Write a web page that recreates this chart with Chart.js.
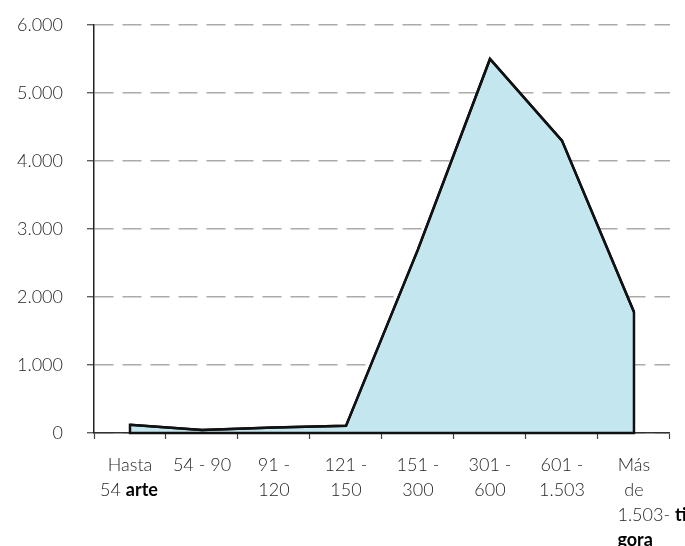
<!DOCTYPE html>
<html>
<head>
<meta charset="utf-8">
<script src="https://cdn.jsdelivr.net/npm/chart.js@4.4.1/dist/chart.umd.min.js"></script>
<style>
html,body{margin:0;padding:0;background:#fff;}
#wrap{width:685px;height:546px;position:relative;}
</style>
</head>
<body>
<div id="wrap"><canvas id="c"></canvas></div>
<script>
// ---- data ----
const categories = ["Hasta 54", "54 - 90", "91 - 120", "121 - 150", "151 - 300", "301 - 600", "601 - 1.503", "Más de 1.503"];
const values = [120, 45, 80, 105, 2700, 5500, 4300, 1780];
const yTickLabels = ["0", "1.000", "2.000", "3.000", "4.000", "5.000", "6.000"];
const xTickLines = [["Hasta", "54"], ["54 - 90"], ["91 -", "120"], ["121 -", "150"], ["151 -", "300"], ["301 -", "600"], ["601 -", "1.503"], ["Más", "de", "1.503-"]];
const boldWords = [
  { tick: 0, line: 1, text: "arte" },
  { tick: 7, line: 2, text: "tik" },
  { tick: 7, line: 3, text: "gora" }
];

// ---- style ----
const FAMILY = "Lato, 'Open Sans', sans-serif";
const SIZE = 18;
const LINE_H = 25;
const TEXT_COLOR = "#262626";
const normalFont = `300 ${SIZE}px ${FAMILY}`;
const boldFont = `bold ${SIZE}px ${FAMILY}`;

const mctx = document.createElement('canvas').getContext('2d');
function w(txt, font){ mctx.font = font; return mctx.measureText(txt).width; }
const spaceW = w(' ', normalFont);

// lines as drawn by the axis (spaces reserve room for bold words)
function axisLines(i){
  const lines = xTickLines[i].slice();
  if (i === 0) {
    lines[1] = lines[1] + ' '.repeat(Math.round((spaceW + w('arte', boldFont)) / spaceW));
  }
  if (i === 7) {
    lines[2] = ' '.repeat(Math.round(18 / spaceW)) + lines[2];
  }
  return lines;
}

const X_TICK_LEN = 6, X_PAD = 14;
const AREA_TOP = 25, AREA_BOTTOM = 433;

const outlinePlugin = {
  id: 'outline',
  afterDatasetsDraw(chart){
    const pts = chart.getDatasetMeta(0).data;
    const y0 = chart.scales.y.getPixelForValue(0);
    const ctx = chart.ctx;
    ctx.save();
    ctx.beginPath();
    ctx.moveTo(pts[0].x, y0);
    pts.forEach(p => ctx.lineTo(p.x, p.y));
    ctx.lineTo(pts[pts.length - 1].x, y0);
    ctx.closePath();
    ctx.lineWidth = 2.5;
    ctx.strokeStyle = '#111';
    ctx.lineJoin = 'miter';
    ctx.stroke();
    ctx.restore();
  }
};

const boldPlugin = {
  id: 'boldWords',
  afterDraw(chart){
    const xs = chart.scales.x;
    const ctx = chart.ctx;
    ctx.save();
    ctx.fillStyle = '#000';
    ctx.textBaseline = 'middle';
    ctx.textAlign = 'left';
    boldWords.forEach(b => {
      const cx = xs.getPixelForTick(b.tick);
      const lines = axisLines(b.tick);
      const y = xs.top + X_TICK_LEN + X_PAD + LINE_H * (b.line + 0.5);
      let x;
      if (b.line < lines.length) {
        const full = lines[b.line];
        const left = cx - w(full, normalFont) / 2;
        const lead = full.length - full.trimStart().length;
        x = left + w(full.slice(0, lead) + full.trim() + ' ', normalFont);
      } else {
        const ref = lines[lines.length - 1];
        const left = cx - w(ref, normalFont) / 2;
        const lead = ref.length - ref.trimStart().length;
        x = left + w(ref.slice(0, lead), normalFont);
      }
      ctx.font = boldFont;
      ctx.fillText(b.text, x, y);
    });
    ctx.restore();
  }
};

const chart = new Chart(document.getElementById('c'), {
  type: 'line',
  data: {
    labels: categories,
    datasets: [{
      data: values,
      fill: 'origin',
      backgroundColor: '#C3E6EF',
      borderColor: '#111',
      borderWidth: 2.5,
      pointRadius: 0,
      tension: 0
    }]
  },
  options: {
    responsive: true,
    maintainAspectRatio: false,
    animation: false,
    layout: { autoPadding: false, padding: { top: 25, right: 15, left: 0, bottom: 15 } },
    plugins: { legend: { display: false }, tooltip: { enabled: false } },
    scales: {
      x: {
        type: 'category',
        offset: true,
        grid: {
          offset: true,
          drawOnChartArea: false,
          drawTicks: true,
          tickLength: X_TICK_LEN,
          tickColor: '#444',
          tickWidth: 1.2
        },
        border: { display: true, color: '#333', width: 1.5 },
        ticks: {
          autoSkip: false,
          maxRotation: 0,
          padding: X_PAD,
          color: TEXT_COLOR,
          font: { family: FAMILY, size: SIZE, weight: 300, lineHeight: LINE_H / SIZE },
          callback: (v, i) => axisLines(i)
        }
      },
      y: {
        min: 0, max: 6000,
        ticks: {
          stepSize: 1000,
          padding: 24,
          color: TEXT_COLOR,
          // single-line labels: a tiny line height keeps the axis from reserving extra space on top
          font: { family: FAMILY, size: SIZE, weight: 300, lineHeight: 0.05 },
          callback: (v, i) => yTickLabels[i]
        },
        grid: {
          color: '#aaaaaa',
          lineWidth: 1.5,
          tickBorderDash: [],
          tickColor: '#444',
          tickWidth: 1.2,
          tickLength: 7,
          drawTicks: true
        },
        border: { display: true, color: '#222', width: 1.5, dash: [19, 9], dashOffset: 0 },
        afterFit: s => { s.width = 94; }
      }
    }
  },
  plugins: [outlinePlugin, boldPlugin]
});

// settle the plot area onto the reference's frame
for (let k = 0; k < 4; k++) {
  const pad = chart.options.layout.padding;
  const dTop = AREA_TOP - chart.chartArea.top;
  const dBot = chart.chartArea.bottom - AREA_BOTTOM;
  if (Math.abs(dTop) < 0.3 && Math.abs(dBot) < 0.3) break;
  pad.top = Math.max(0, pad.top + dTop);
  pad.bottom = Math.max(0, pad.bottom + dBot);
  chart.update();
}
</script>
</body>
</html>
